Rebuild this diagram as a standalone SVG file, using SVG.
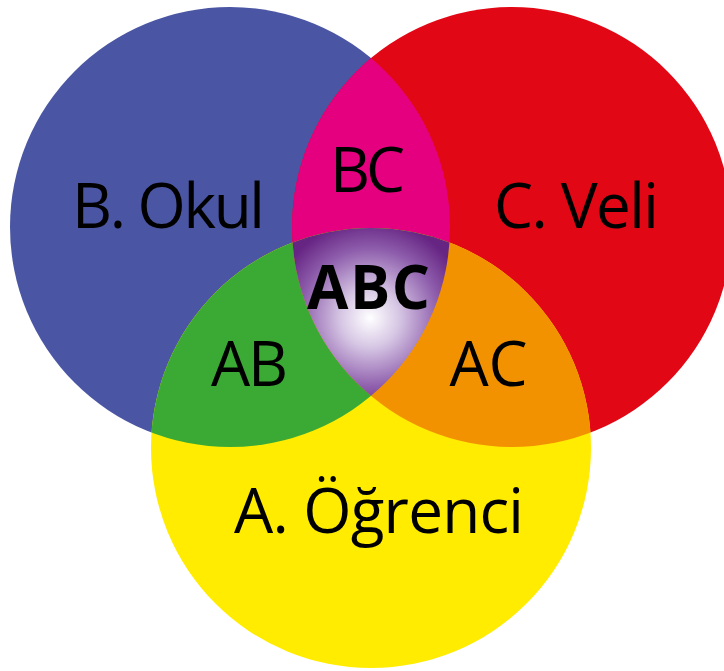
<svg xmlns="http://www.w3.org/2000/svg" width="724" height="671" viewBox="0 0 724 671">
<style>
text{font-family:"Open Sans","Noto Sans","Liberation Sans",sans-serif;fill:#000;text-anchor:middle}
.lbl{font-size:62px}
.bold{font-size:60px;font-weight:700}
</style>
<defs>
<clipPath id="cB"><circle cx="230" cy="227" r="220"/></clipPath>
<clipPath id="cR"><circle cx="512" cy="227" r="220"/></clipPath>
<radialGradient id="gABC" gradientUnits="userSpaceOnUse" cx="370" cy="318" r="98">
<stop offset="0" stop-color="#ffffff"/>
<stop offset="0.3" stop-color="#d6c6e4"/>
<stop offset="0.7" stop-color="#8f5fad"/>
<stop offset="1" stop-color="#662483"/>
</radialGradient>
</defs>
<rect width="724" height="671" fill="#fff"/>
<g id="B">
<circle cx="230" cy="227" r="220" fill="#4a56a3"/>
</g>
<g id="C">
<circle cx="512" cy="227" r="220" fill="#e20714"/>
</g>
<g id="A">
<circle cx="371" cy="448" r="220" fill="#ffec00"/>
</g>
<g id="BC">
<circle cx="512" cy="227" r="220" fill="#e4007e" clip-path="url(#cB)"/>
</g>
<g id="AB">
<circle cx="371" cy="448" r="220" fill="#3aaa35" clip-path="url(#cB)"/>
</g>
<g id="AC">
<circle cx="371" cy="448" r="220" fill="#f39200" clip-path="url(#cR)"/>
</g>
<g id="ABC">
<g clip-path="url(#cR)">
<circle cx="371" cy="448" r="220" fill="url(#gABC)" clip-path="url(#cB)"/>
</g>
</g>
<g id="connectors"></g>
<g id="labels">
<text class="lbl" x="168.5" y="228" textLength="193" lengthAdjust="spacing">B. Okul</text>
<text class="lbl" x="576.5" y="228" textLength="165" lengthAdjust="spacing">C. Veli</text>
<text class="lbl" x="367.5" y="192" textLength="75" lengthAdjust="spacing">BC</text>
<text class="bold" x="368.5" y="309" textLength="123" lengthAdjust="spacing">ABC</text>
<text class="lbl" x="249.5" y="386" textLength="77" lengthAdjust="spacing">AB</text>
<text class="lbl" x="488.5" y="386" textLength="78" lengthAdjust="spacing">AC</text>
<text class="lbl" x="379" y="533" textLength="290" lengthAdjust="spacing">A. Öğrenci</text>
</g>
</svg>
